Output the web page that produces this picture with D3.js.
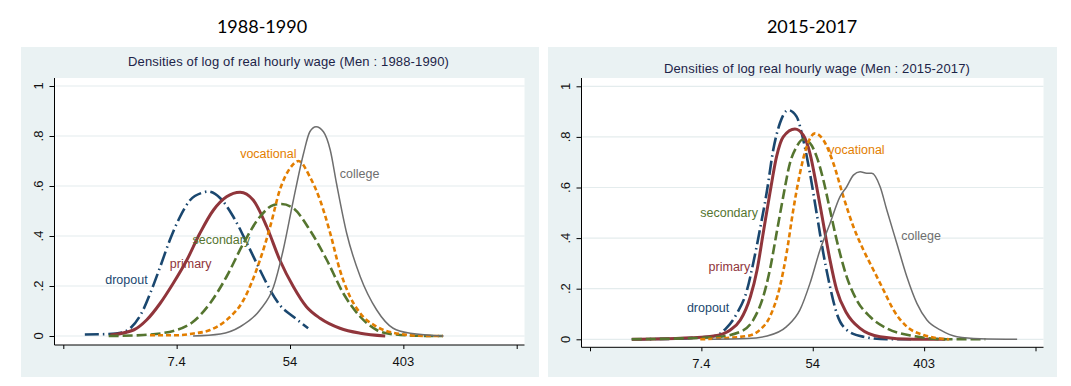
<!DOCTYPE html>
<html>
<head>
<meta charset="utf-8">
<script src="https://cdn.jsdelivr.net/npm/d3@7"></script>
<style>
  body { margin: 0; background: #fff; }
  svg { display: block; }
  .ttl { font-family: "Liberation Sans", Arial, sans-serif; fill: #1c2448; }
  .tick-lbl { font-family: "Liberation Sans", Arial, sans-serif; fill: #111; }
  .lbl { font-family: "Liberation Sans", Arial, sans-serif; font-size: 12.5px; }
</style>
</head>
<body>
<svg width="1071" height="386"></svg>
<script>
// axis ticks (x is log wage, labels are exp of the tick)
var xTicks = [0, 2, 4, 6, 8];
var xTickLabels = ["", "7.4", "54", "403", ""];
var yTicks = [0, 0.2, 0.4, 0.6, 0.8, 1];
var yTickLabels = ["0", ".2", ".4", ".6", ".8", "1"];

var groups = ["dropout", "primary", "secondary", "vocational", "college"];

// 1988-1990 densities, [log wage, density]
var dropout8890 = [[0.38,0.006],[0.8,0.008],[1.05,0.015],[1.2,0.035],[1.4,0.1],[1.55,0.18],[1.71,0.277],[1.88,0.384],[2.06,0.477],[2.24,0.544],[2.45,0.573],[2.55,0.578],[2.77,0.551],[3.0,0.477],[3.24,0.371],[3.47,0.264],[3.65,0.184],[3.82,0.124],[4.06,0.077],[4.32,0.031]];
var primary8890 = [[0.83,0.004],[1.24,0.024],[1.47,0.064],[1.71,0.131],[1.94,0.211],[2.18,0.304],[2.41,0.411],[2.65,0.504],[2.88,0.557],[3.12,0.575],[3.35,0.544],[3.59,0.437],[3.82,0.304],[4.06,0.197],[4.29,0.117],[4.53,0.071],[4.88,0.031],[5.24,0.011],[5.68,0.0]];
var secondary8890 = [[0.8,0.0],[1.41,0.004],[2.0,0.024],[2.29,0.057],[2.59,0.131],[2.88,0.237],[3.18,0.371],[3.47,0.477],[3.71,0.524],[3.85,0.528],[4.06,0.511],[4.35,0.424],[4.65,0.304],[4.94,0.171],[5.24,0.077],[5.53,0.024],[5.82,0.007],[6.29,0.001],[6.7,0.0]];
var vocational8890 = [[1.53,0.003],[2.0,0.003],[2.3,0.01],[2.59,0.024],[2.88,0.064],[3.18,0.144],[3.47,0.304],[3.65,0.437],[3.82,0.584],[4.0,0.671],[4.15,0.7],[4.35,0.637],[4.53,0.544],[4.71,0.411],[4.88,0.264],[5.06,0.157],[5.24,0.091],[5.53,0.037],[5.82,0.013],[6.41,0.0],[6.7,0.0]];
var college8890 = [[2.29,0.0],[2.77,0.008],[3.12,0.037],[3.47,0.104],[3.71,0.197],[3.88,0.344],[4.06,0.544],[4.24,0.731],[4.35,0.817],[4.46,0.837],[4.59,0.817],[4.71,0.744],[4.82,0.611],[5.0,0.411],[5.24,0.237],[5.53,0.104],[5.82,0.031],[6.12,0.011],[6.71,0.0]];
// label anchors [log wage, density]
var labels8890 = [[0.74,0.224],[1.88,0.291],[2.28,0.387],[3.12,0.731],[4.88,0.651]];

// 2015-2017 densities
var dropout1517 = [[0.75,0.0],[1.62,0.003],[2.0,0.008],[2.22,0.012],[2.46,0.047],[2.64,0.103],[2.82,0.195],[2.93,0.3],[3.05,0.432],[3.18,0.59],[3.29,0.748],[3.41,0.854],[3.56,0.906],[3.71,0.88],[3.83,0.788],[3.95,0.656],[4.07,0.498],[4.19,0.34],[4.31,0.208],[4.43,0.103],[4.61,0.037],[4.91,0.01],[5.33,0.0],[5.82,0.0]];
var primary1517 = [[0.75,0.0],[1.62,0.004],[2.22,0.013],[2.52,0.037],[2.7,0.076],[2.88,0.168],[3.0,0.274],[3.11,0.419],[3.23,0.577],[3.35,0.722],[3.47,0.8],[3.68,0.831],[3.83,0.807],[3.95,0.735],[4.07,0.603],[4.19,0.458],[4.31,0.313],[4.43,0.195],[4.61,0.103],[4.85,0.043],[5.21,0.01],[5.81,0.0],[6.38,0.0]];
var secondary1517 = [[0.75,0.0],[2.22,0.008],[2.7,0.03],[2.93,0.076],[3.11,0.168],[3.23,0.274],[3.35,0.419],[3.47,0.564],[3.59,0.696],[3.71,0.761],[3.82,0.79],[3.95,0.775],[4.07,0.722],[4.19,0.63],[4.31,0.511],[4.43,0.392],[4.61,0.247],[4.79,0.155],[5.03,0.089],[5.33,0.043],[5.81,0.013],[6.41,0.0],[7.1,0.0]];
var vocational1517 = [[1.98,0.0],[2.82,0.013],[3.05,0.037],[3.23,0.089],[3.41,0.208],[3.53,0.34],[3.65,0.511],[3.77,0.656],[3.89,0.761],[4.04,0.814],[4.19,0.788],[4.37,0.696],[4.55,0.564],[4.73,0.445],[4.91,0.353],[5.09,0.274],[5.27,0.195],[5.45,0.116],[5.69,0.05],[5.99,0.017],[6.29,0.003],[6.45,0.0]];
var college1517 = [[2.19,0.0],[2.82,0.003],[3.18,0.013],[3.53,0.05],[3.77,0.116],[3.95,0.221],[4.13,0.353],[4.31,0.458],[4.49,0.564],[4.61,0.603],[4.73,0.649],[4.85,0.662],[4.97,0.656],[5.06,0.656],[5.21,0.603],[5.33,0.511],[5.51,0.379],[5.69,0.247],[5.87,0.142],[6.05,0.076],[6.29,0.037],[6.59,0.01],[7.01,0.002],[7.67,0.0]];
var labels1517 = [[1.74,0.126],[2.13,0.287],[1.98,0.5],[4.28,0.751],[5.59,0.41]];

// line look per group
var colors = ["#1a476f", "#90353b", "#55752f", "#e37e00", "#6e6e6e"];
var dashes = ["14,4,1.5,4", null, "10,4", "5,3", null];
var widths = [2.6, 3, 2.6, 2.6, 1.5];

var svg = d3.select("svg");

drawPanel = function(p) {
  var g = svg.append("g");

  g.append("rect")
    .attr("x", p.bx).attr("y", 47)
    .attr("width", p.bw).attr("height", 330)
    .attr("fill", "#eaf2f3");

  g.append("rect")
    .attr("x", p.left).attr("y", 78)
    .attr("width", p.right - p.left).attr("height", p.bottom - 78)
    .attr("fill", "#fff");

  var x = d3.scaleLinear().domain([0, 8]).range(p.xr);
  var y = d3.scaleLinear().domain([0, 1]).range(p.yr);

  // grid lines
  g.selectAll(".grid").data(yTicks).enter()
    .append("line")
    .attr("x1", p.left + 1).attr("x2", p.right)
    .attr("y1", function(d) { return y(d) }).attr("y2", function(d) { return y(d) })
    .attr("stroke", "#e4eced").attr("stroke-width", 1.2);

  // y axis
  var leftAxis = d3.axisLeft(y).tickValues(yTicks).tickSize(5).tickFormat(function(d, i) { return "" });
  var ya = g.append("g").attr("transform", "translate(" + p.left + ",0)").call(leftAxis);
  ya.select(".domain").attr("d", "M0," + 78 + "V" + p.bottom).attr("stroke", "#000");
  ya.selectAll(".tick line").attr("stroke", "#000");
  g.selectAll(".ylab").data(yTicks).enter()
    .append("text")
    .attr("class", "tick-lbl")
    .attr("transform", function(d) { return "translate(" + (p.left - 16) + "," + y(d) + ") rotate(-90)" })
    .attr("text-anchor", "middle")
    .attr("dy", "0.35em")
    .style("font-size", "13px")
    .text(function(d, i) { return yTickLabels[i] });

  // x axis
  var bottomAxis = d3.axisBottom(x).tickValues(xTicks).tickSize(4).tickFormat(function(d, i) { return "" });
  var xa = g.append("g").attr("transform", "translate(0," + p.bottom + ")").call(bottomAxis);
  xa.select(".domain").attr("d", "M" + p.left + ",0H" + p.right).attr("stroke", "#000");
  xa.selectAll(".tick line").attr("stroke", "#000");
  g.selectAll(".xlab").data(xTicks).enter()
    .append("text")
    .attr("class", "tick-lbl")
    .attr("x", function(d) { return x(d) })
    .attr("y", p.bottom + 21)
    .attr("text-anchor", "middle")
    .style("font-size", "13px")
    .text(function(d, i) { return xTickLabels[i] });

  // density curves
  var line = d3.line()
    .x(function(d) { return x(d[0]) })
    .y(function(d) { return y(d[1]) })
    .curve(d3.curveMonotoneX);

  p.series.forEach(function(s, i) {
    g.append("path")
      .attr("d", line(s))
      .attr("fill", "none")
      .attr("stroke", colors[i])
      .attr("stroke-width", widths[i])
      .attr("stroke-dasharray", dashes[i]);
  });

  // curve labels
  g.selectAll(".lbl").data(p.labels).enter()
    .append("text")
    .attr("class", "lbl")
    .attr("x", function(d) { return x(d[0]) })
    .attr("y", function(d) { return y(d[1]) })
    .attr("dy", "0.35em")
    .attr("fill", function(d, i) { return colors[i] })
    .text(function(d, i) { return groups[i] });

  // titles
  g.append("text")
    .attr("class", "ttl")
    .attr("x", p.tx).attr("y", p.ty)
    .attr("text-anchor", "middle")
    .style("font-size", "13px")
    .style("letter-spacing", "0.15px")
    .text(p.title);

  svg.append("text")
    .attr("x", p.hx).attr("y", 33)
    .attr("text-anchor", "middle")
    .style("font-family", "Lato, 'Open Sans', sans-serif")
    .style("font-size", "18px")
    .attr("fill", "#000")
    .text(p.head);
};

drawPanel({
  bx: 21, bw: 518, left: 54.5, right: 524.5, bottom: 345,
  xr: [63.3, 516.7], yr: [336, 86],
  series: [dropout8890, primary8890, secondary8890, vocational8890, college8890],
  labels: labels8890,
  title: "Densities of log of real hourly wage (Men : 1988-1990)", tx: 288.5, ty: 66,
  head: "1988-1990", hx: 262
});

drawPanel({
  bx: 548, bw: 509, left: 581.5, right: 1043.5, bottom: 347.3,
  xr: [590, 1035.5], yr: [339.3, 86.3],
  series: [dropout1517, primary1517, secondary1517, vocational1517, college1517],
  labels: labels1517,
  title: "Densities of log real hourly wage (Men : 2015-2017)", tx: 817, ty: 73,
  head: "2015-2017", hx: 812
});
</script>
</body>
</html>
